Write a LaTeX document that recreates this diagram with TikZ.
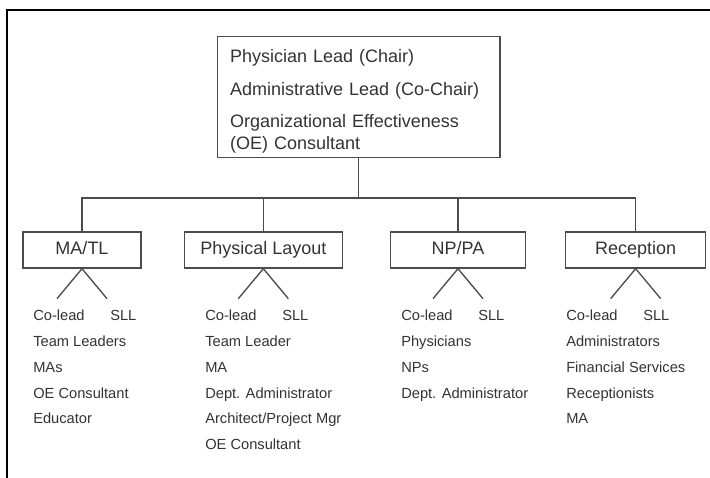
\documentclass[tikz,border=0pt]{standalone}
\usepackage{fontspec}
\setmainfont{Liberation Sans}
\usetikzlibrary{positioning,calc}
\newcommand{\leadrow}{\makebox[57.75pt][l]{Co-lead}SLL}

\begin{document}
\begin{tikzpicture}[x=0.75pt,y=-0.75pt]
 \tikzstyle{unit}=[rectangle,draw=black!70,line width=1pt,minimum height=27pt,font=\fontsize{13.5}{16.5}\selectfont,text=black!80]
 \tikzstyle{staff}=[inner sep=0,anchor=north west,align=left,font=\fontsize{11}{19.3}\selectfont,text=black!80]
 \tikzstyle{link}=[draw=black!70,line width=1pt]
 \useasboundingbox (0,0) rectangle (710,478);
 \draw[line width=1.5pt] (712,10.5) -- (6.5,10.5) -- (6.5,480);
  \node[unit,align=left,text width=192.5pt,inner xsep=9.75pt,minimum height=90pt] (chair) at (358.5,97)
   {\rule{0pt}{16pt}Physician Lead (Chair)\\[8pt]Administrative Lead (Co-Chair)\\[7.5pt]Organizational Effectiveness\\(OE) Consultant};
  \tikzstyle{sub}=[unit,text height=9.7pt,text depth=2.8pt]
  \node[sub,minimum width=88.5pt] (matl) at (82,250) {MA/TL};
  \node[sub,minimum width=118.5pt] (layout) [right=31.5pt of matl] {Physical Layout};
  \node[sub,minimum width=101pt] (nppa) [right=35.25pt of layout] {NP/PA};
  \node[sub,minimum width=105pt] (recep) [right=29.25pt of nppa] {Reception};
  \coordinate (bus) at (chair.south |- 0,198);
  \node[staff] (matlstaff) at (33,310) {\leadrow\\Team Leaders\\MAs\\OE Consultant\\Educator};
  \node[staff] (layoutstaff) at (205,310) {\leadrow\\Team Leader\\MA\\Dept. Administrator\\Architect/Project Mgr\\OE Consultant};
  \node[staff] (nppastaff) at (401,310) {\leadrow\\Physicians\\NPs\\Dept. Administrator};
  \node[staff] (recepstaff) at (566,310) {\leadrow\\Administrators\\Financial Services\\Receptionists\\MA};
\draw[link] (chair.south) -- (bus) ;
\draw[link] (matl.north) |- (bus) -| (recep.north) ;
\draw[link] (layout.north) -- (layout.north |- bus) ;
\draw[link] (nppa.north) -- (nppa.north |- bus) ;
\draw[link] (matl.south) +(-25,30) -- (matl.south) -- +(25,30) ;
\draw[link] (layout.south) +(-25,30) -- (layout.south) -- +(25,30) ;
\draw[link] (nppa.south) +(-25,30) -- (nppa.south) -- +(25,30) ;
\draw[link] (recep.south) +(-25,30) -- (recep.south) -- +(25,30) ;
\end{tikzpicture}
\end{document}
